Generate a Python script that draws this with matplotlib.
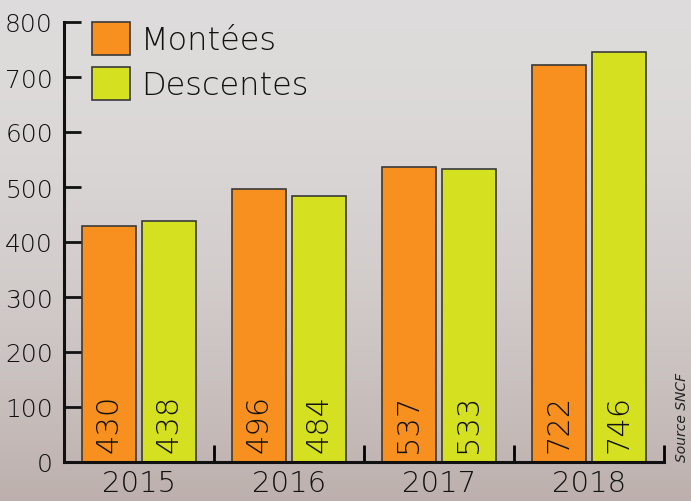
import numpy as np
import matplotlib.pyplot as plt

annees = ['2015', '2016', '2017', '2018']
montees = [430, 496, 537, 722]
descentes = [438, 484, 533, 746]
yticks = [0, 100, 200, 300, 400, 500, 600, 700, 800]

plt.rcParams['font.family'] = ['DejaVu Sans']
plt.rcParams['font.weight'] = 'light'

fig = plt.figure(figsize=(6.91, 5.02), dpi=100)

# fond gris type photo, simple dégradé vertical
bg = fig.add_axes([0, 0, 1, 1], zorder=-1)
grad = np.linspace(0, 1, 256)[:, None]
top = np.array([0.87, 0.86, 0.86])
bot = np.array([0.74, 0.69, 0.68])
img = top + (bot - top) * grad[..., None] ** 1.8
bg.imshow(img, aspect='auto', extent=[0, 1, 0, 1])
bg.axis('off')

ax = fig.add_axes([64 / 691, 39 / 502, 600 / 691, 440 / 502])
ax.patch.set_alpha(0)

x = np.arange(len(annees))
w = 0.36
b1 = ax.bar(x - 0.2, montees, w, color='#F7901E', edgecolor='#3a3a3a', linewidth=1.2, label='Montées')
b2 = ax.bar(x + 0.2, descentes, w, color='#D5E021', edgecolor='#3a3a3a', linewidth=1.2, label='Descentes')

for bars, vals in ((b1, montees), (b2, descentes)):
    for r, v in zip(bars, vals):
        ax.text(r.get_x() + r.get_width() / 2, 18, str(v), rotation=90,
                ha='center', va='bottom', fontsize=22, color='#111111')

ax.set_xlim(-0.5, 3.5)
ax.set_ylim(0, 800)
ax.set_yticks(yticks)
ax.tick_params(axis='y', direction='in', length=12, width=2, labelsize=18, pad=8, colors='#111111')
ax.set_xticks([0.5, 1.5, 2.5, 3.5])
ax.set_xticklabels([])
ax.tick_params(axis='x', direction='in', length=12, width=2)
for i, a in enumerate(annees):
    ax.text(i, -12, a, ha='center', va='top', fontsize=21, color='#111111')

for s in ['top', 'right']:
    ax.spines[s].set_visible(False)
for s in ['left', 'bottom']:
    ax.spines[s].set_linewidth(2.2)
    ax.spines[s].set_color('#111111')

leg = ax.legend(loc='upper left', bbox_to_anchor=(0.025, 1.03), frameon=False,
                fontsize=23, handlelength=1.2, handleheight=1.25, labelspacing=0.35,
                handletextpad=0.35, borderaxespad=0)
for t in leg.get_texts():
    t.set_color('#111111')

fig.text(682 / 691, 40 / 502, 'Source SNCF', rotation=90, ha='center', va='bottom',
         fontsize=10, style='italic', color='#222222')

fig.savefig('out.png', dpi=100)
